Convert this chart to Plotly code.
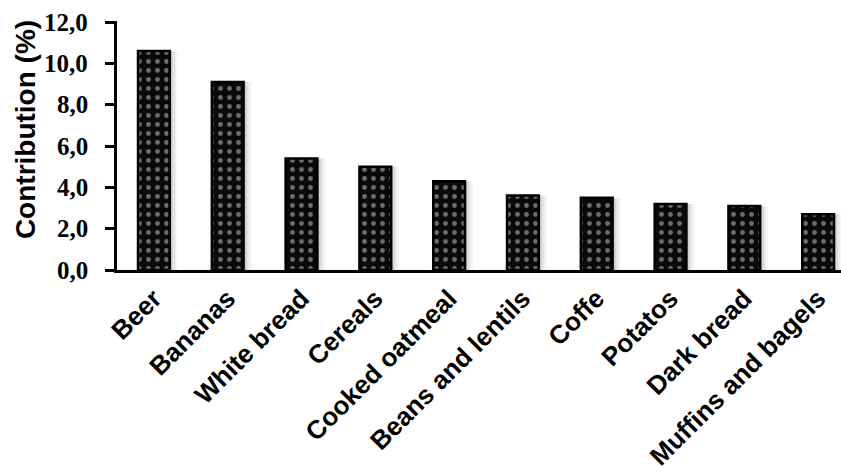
import plotly.graph_objects as go

# Food items and their contribution (%)
foods = ["Beer", "Bananas", "White bread", "Cereals", "Cooked oatmeal",
         "Beans and lentils", "Coffe", "Potatos", "Dark bread", "Muffins and bagels"]
contribution = [10.6, 9.1, 5.4, 5.0, 4.3, 3.6, 3.5, 3.2, 3.1, 2.7]

y_ticks = [0, 2, 4, 6, 8, 10, 12]
y_tick_text = ["0,0", "2,0", "4,0", "6,0", "8,0", "10,0", "12,0"]

fig = go.Figure()

# soft drop shadow fading out on the right side of each bar
for off, alpha in [(-0.105, 0.035), (-0.135, 0.05), (-0.165, 0.07), (-0.19, 0.10)]:
    fig.add_trace(go.Bar(
        x=foods, y=contribution, width=0.43, offset=off,
        marker=dict(color=f"rgba(0,0,0,{alpha})", line=dict(width=0)),
        hoverinfo="skip", showlegend=False,
    ))

# patterned bars
fig.add_trace(go.Bar(
    x=foods, y=contribution, width=0.43, offset=-0.215,
    marker=dict(
        color="#000000",
        line=dict(color="#000000", width=2.5),
        pattern=dict(shape=".", bgcolor="#0a0a0a", fgcolor="#cfcfcf",
                     size=9, solidity=0.22, fillmode="overlay"),
    ),
    showlegend=False,
))

# y tick labels, set a little further out from the tick marks
for val, txt in zip(y_ticks, y_tick_text):
    fig.add_annotation(
        text=txt, xref="paper", yref="y", x=-0.037, y=val,
        xanchor="right", yanchor="middle", showarrow=False,
        font=dict(family="Liberation Serif, Times New Roman", size=25, color="black", weight="bold"),
    )

# y-axis title
fig.add_annotation(
    text="Contribution (%)", textangle=-90,
    xref="paper", yref="paper", x=-0.127, y=0.562,
    xanchor="center", yanchor="middle", showarrow=False,
    font=dict(family="Liberation Sans, Arial", size=28, color="black", weight="bold"),
)

fig.update_layout(
    template="none",
    width=841, height=472,
    margin=dict(l=117, r=0, t=21, b=202),
    paper_bgcolor="white", plot_bgcolor="white",
    barmode="overlay",
    xaxis=dict(
        range=[-0.5, 9.31], automargin=False,
        showline=True, linecolor="black", linewidth=3,
        ticks="", tickangle=-45,
        tickfont=dict(family="Liberation Sans, Arial", size=26, color="black", weight="bold"),
        showgrid=False, zeroline=False,
    ),
    yaxis=dict(
        range=[0, 12.05], automargin=False,
        tickvals=y_ticks, showticklabels=False,
        showline=True, linecolor="black", linewidth=3,
        ticks="outside", ticklen=9, tickwidth=3, tickcolor="black",
        showgrid=False, zeroline=False,
    ),
)

fig.write_html("out.html")
